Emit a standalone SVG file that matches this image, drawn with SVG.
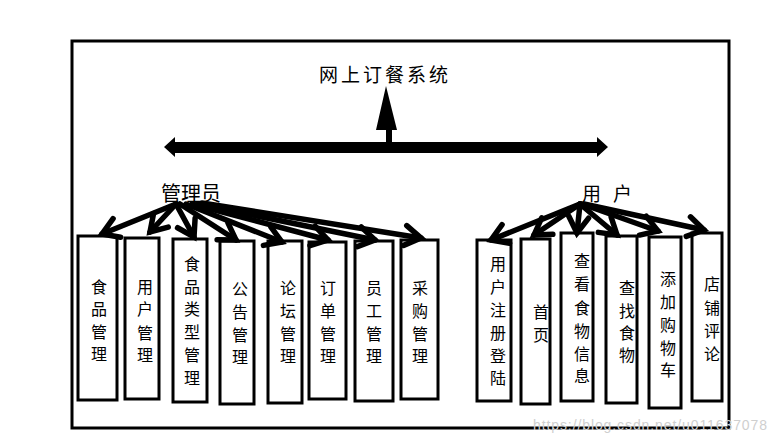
<svg xmlns="http://www.w3.org/2000/svg" width="777" height="444" viewBox="0 0 777 444">
<style>
.box{fill:#fff;stroke:#000;stroke-width:3}
.lbl{font-family:"Noto Sans CJK SC","Noto Sans",sans-serif;font-size:16px;fill:#000;text-anchor:middle;dominant-baseline:central}
.head{font-family:"Noto Sans CJK SC","Noto Sans",sans-serif;fill:#000}
.conn{stroke:#000;stroke-width:5.5;fill:none;stroke-linecap:round;marker-end:url(#ah)}
</style>
<defs>
<marker id="ah" markerUnits="userSpaceOnUse" viewBox="-20 -12 24 24" refX="0" refY="0" markerWidth="24" markerHeight="24" orient="auto" overflow="visible">
<path d="M-16,-10 L0,0 L-16,10" fill="none" stroke="#000" stroke-width="5.5" stroke-linecap="round" stroke-linejoin="miter"/>
</marker>
</defs>
<rect x="0" y="0" width="777" height="444" fill="#fff"/>
<rect x="72" y="41" width="657" height="387" fill="none" stroke="#000" stroke-width="3"/>

<g id="title"><text class="head" x="319" y="82" font-size="19" letter-spacing="3">网上订餐系统</text></g>
<g id="admin"><text class="head" x="161" y="201" font-size="20">管理员</text></g>
<g id="user"><text class="head" y="201" font-size="19"><tspan x="582">用</tspan><tspan x="613">户</tspan></text></g>

<g id="a1"><rect class="box" x="78" y="236" width="39" height="164"/><text class="lbl"><tspan x="99" y="286">食</tspan><tspan x="99" y="308">品</tspan><tspan x="99" y="331">管</tspan><tspan x="99" y="353">理</tspan></text></g>
<g id="a2"><rect class="box" x="125" y="238" width="34" height="161"/><text class="lbl"><tspan x="145" y="286">用</tspan><tspan x="145" y="308">户</tspan><tspan x="145" y="332">管</tspan><tspan x="145" y="354">理</tspan></text></g>
<g id="a3"><rect class="box" x="173" y="239" width="34" height="163"/><text class="lbl"><tspan x="192" y="263">食</tspan><tspan x="192" y="286">品</tspan><tspan x="192" y="308">类</tspan><tspan x="192" y="331">型</tspan><tspan x="192" y="354">管</tspan><tspan x="192" y="377">理</tspan></text></g>
<g id="a4"><rect class="box" x="220" y="241" width="34" height="163"/><text class="lbl"><tspan x="240" y="288">公</tspan><tspan x="240" y="311">告</tspan><tspan x="240" y="334">管</tspan><tspan x="240" y="356">理</tspan></text></g>
<g id="a5"><rect class="box" x="268" y="241" width="34" height="162"/><text class="lbl"><tspan x="288" y="287">论</tspan><tspan x="288" y="310">坛</tspan><tspan x="288" y="333">管</tspan><tspan x="288" y="355">理</tspan></text></g>
<g id="a6"><rect class="box" x="309" y="242" width="37" height="157"/><text class="lbl"><tspan x="328" y="287">订</tspan><tspan x="328" y="310">单</tspan><tspan x="328" y="333">管</tspan><tspan x="328" y="355">理</tspan></text></g>
<g id="a7"><rect class="box" x="355" y="241" width="38" height="160"/><text class="lbl"><tspan x="374" y="287">员</tspan><tspan x="374" y="310">工</tspan><tspan x="374" y="333">管</tspan><tspan x="374" y="355">理</tspan></text></g>
<g id="a8"><rect class="box" x="401" y="240" width="37" height="159"/><text class="lbl"><tspan x="420" y="287">采</tspan><tspan x="420" y="310">购</tspan><tspan x="420" y="333">管</tspan><tspan x="420" y="355">理</tspan></text></g>

<g id="u1"><rect class="box" x="477" y="240" width="34" height="161"/><text class="lbl"><tspan x="498" y="263">用</tspan><tspan x="498" y="286">户</tspan><tspan x="498" y="309">注</tspan><tspan x="498" y="332">册</tspan><tspan x="498" y="355">登</tspan><tspan x="498" y="377">陆</tspan></text></g>
<g id="u2"><rect class="box" x="521" y="239" width="29" height="165"/><text class="lbl"><tspan x="541" y="311">首</tspan><tspan x="541" y="334">页</tspan></text></g>
<g id="u3"><rect class="box" x="561" y="233" width="32" height="168"/><text class="lbl"><tspan x="582" y="260">查</tspan><tspan x="582" y="283">看</tspan><tspan x="582" y="307">食</tspan><tspan x="582" y="330">物</tspan><tspan x="582" y="353">信</tspan><tspan x="582" y="375">息</tspan></text></g>
<g id="u4"><rect class="box" x="606" y="236" width="31" height="167"/><text class="lbl"><tspan x="627" y="287">查</tspan><tspan x="627" y="310">找</tspan><tspan x="627" y="332">食</tspan><tspan x="627" y="354">物</tspan></text></g>
<g id="u5"><rect class="box" x="649" y="237" width="32" height="171"/><text class="lbl"><tspan x="668" y="278">添</tspan><tspan x="668" y="301">加</tspan><tspan x="668" y="324">购</tspan><tspan x="668" y="347">物</tspan><tspan x="668" y="369">车</tspan></text></g>
<g id="u6"><rect class="box" x="692" y="233" width="30" height="168"/><text class="lbl"><tspan x="712" y="283">店</tspan><tspan x="712" y="307">铺</tspan><tspan x="712" y="330">评</tspan><tspan x="712" y="353">论</tspan></text></g>

<g id="connectors">
<polygon points="164,147 175,137 175,142 386,142 386,130 376,130 386,86 397,130 392,130 392,142 597,142 597,137 608,147 597,157 597,153 175,153 175,157" fill="#000"/>
<line class="conn" x1="176" y1="204" x2="102" y2="234"/>
<line class="conn" x1="176" y1="204" x2="150" y2="232"/>
<line class="conn" x1="176" y1="204" x2="194" y2="237"/>
<line class="conn" x1="180" y1="204" x2="236" y2="240"/>
<line class="conn" x1="186" y1="204" x2="282" y2="242"/>
<line class="conn" x1="192" y1="204" x2="328" y2="240"/>
<line class="conn" x1="198" y1="204" x2="375" y2="240"/>
<line class="conn" x1="202" y1="203" x2="421" y2="238"/>
<line class="conn" x1="580" y1="204" x2="491" y2="240"/>
<line class="conn" x1="580" y1="204" x2="534" y2="235"/>
<line class="conn" x1="580" y1="204" x2="577" y2="233"/>
<line class="conn" x1="580" y1="204" x2="617" y2="235"/>
<line class="conn" x1="582" y1="204" x2="658" y2="231"/>
<line class="conn" x1="584" y1="204" x2="704" y2="230"/>
</g>

<text x="533" y="430" font-family="Liberation Sans, sans-serif" font-size="14" fill="#cfcfcf" textLength="234">https://blog.csdn.net/u011637078</text>
</svg>
